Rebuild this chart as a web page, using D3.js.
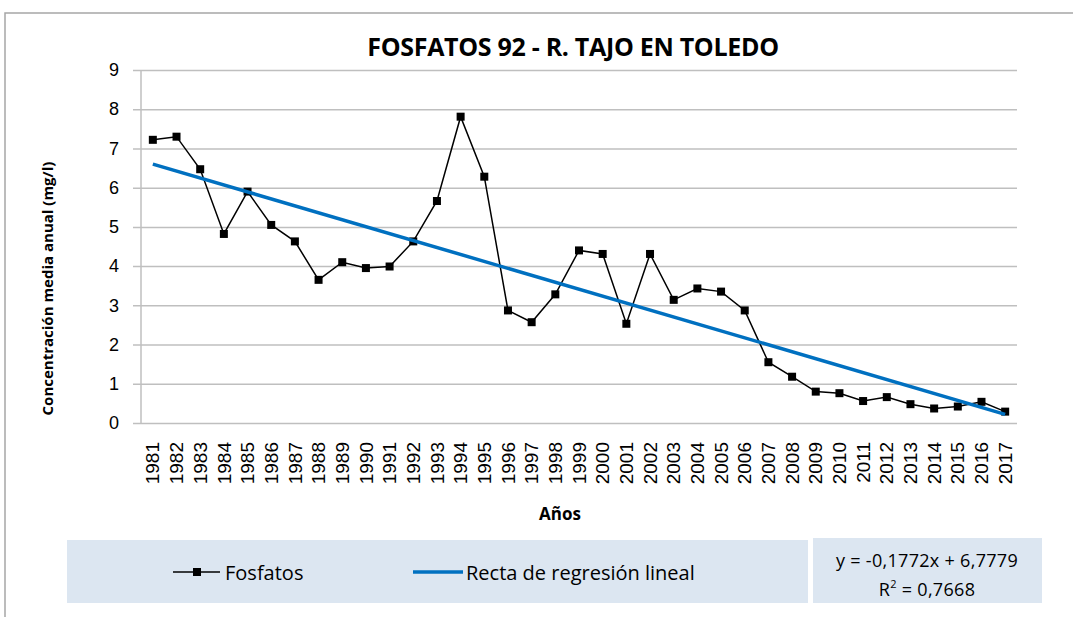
<!DOCTYPE html>
<html>
<head>
<meta charset="utf-8">
<script src="https://cdn.jsdelivr.net/npm/d3@7"></script>
<style>
  body { margin: 0; background: #fff; }
  svg { display: block; font-family: 'Open Sans', sans-serif; }
</style>
</head>
<body>
<svg width="1073" height="617"></svg>
<script>
const years = ['1981', '1982', '1983', '1984', '1985', '1986', '1987', '1988', '1989', '1990',
  '1991', '1992', '1993', '1994', '1995', '1996', '1997', '1998', '1999', '2000',
  '2001', '2002', '2003', '2004', '2005', '2006', '2007', '2008', '2009', '2010',
  '2011', '2012', '2013', '2014', '2015', '2016', '2017'];
const fosfatos = [7.22, 7.30, 6.47, 4.82, 5.90, 5.05, 4.63, 3.65, 4.10, 3.95,
  3.99, 4.63, 5.66, 7.81, 6.28, 2.87, 2.57, 3.28, 4.40, 4.31,
  2.53, 4.31, 3.14, 3.43, 3.35, 2.87, 1.55, 1.18, 0.80, 0.76,
  0.56, 0.66, 0.48, 0.37, 0.42, 0.54, 0.29];
// coeficientes de la recta de regresión (x = 1..37)
const slope = -0.1772;
const intercept = 6.7779;
const rSquared = 0.7668;
const yTicks = [0, 1, 2, 3, 4, 5, 6, 7, 8, 9];

function createChart() {
  const svg = d3.select('svg');
  const left = 141;
  const right = 1017;
  const top = 70;
  const bottom = 423;

  // chart frame
  svg.append('rect')
      .attr('x', 5)
      .attr('y', 13)
      .attr('width', 1200)
      .attr('height', 800)
      .attr('fill', 'none')
      .attr('stroke', '#a6a6a6')
      .attr('stroke-width', 1.5);

  svg.append('text')
      .attr('x', 573)
      .attr('y', 46)
      .attr('text-anchor', 'middle')
      .attr('dominant-baseline', 'central')
      .style('font-size', '25px')
      .style('font-weight', 'bold')
      .style('letter-spacing', '-0.3px')
      .text('FOSFATOS 92 - R. TAJO EN TOLEDO');

  const xScale = d3.scaleBand()
      .domain(years)
      .range([left, right]);
  const yScale = d3.scaleLinear()
      .domain([0, 9])
      .range([bottom, top]);

  const yAxis = d3.axisLeft(yScale)
      .tickValues(yTicks)
      .tickSize(0)
      .tickPadding(22);
  const yAxisG = svg.append('g')
      .attr('transform', `translate(${left}, 0)`)
      .call(yAxis);
  yAxisG.select('.domain').remove();
  yAxisG.selectAll('.tick line')
      .attr('x1', -8)
      .attr('x2', right - left)
      .attr('stroke', '#bfbfbf')
      .attr('stroke-width', 1.5);
  yAxisG.selectAll('.tick text')
      .style('font-size', '18px')
      .attr('fill', '#000');

  svg.append('line')
      .attr('x1', left)
      .attr('x2', left)
      .attr('y1', top)
      .attr('y2', bottom)
      .attr('stroke', '#bfbfbf')
      .attr('stroke-width', 1.5);

  const xAxis = d3.axisBottom(xScale)
      .tickSize(0)
      .tickPadding(0);
  const xAxisG = svg.append('g')
      .attr('transform', `translate(0, ${bottom})`)
      .call(xAxis);
  xAxisG.select('.domain').remove();
  xAxisG.selectAll('.tick text')
      .attr('transform', 'rotate(-90)')
      .attr('x', -19)
      .attr('y', 0)
      .attr('dy', '0.35em')
      .attr('text-anchor', 'end')
      .attr('fill', '#000')
      .style('font-size', '19px');

  svg.append('text')
      .attr('x', 560)
      .attr('y', 513)
      .attr('text-anchor', 'middle')
      .attr('dominant-baseline', 'central')
      .style('font-size', '17px')
      .style('font-weight', 'bold')
      .text('Años');

  svg.append('text')
      .attr('transform', `translate(47, ${(top + bottom) / 2 + 42}) rotate(-90)`)
      .attr('text-anchor', 'middle')
      .attr('dominant-baseline', 'central')
      .style('font-size', '15px')
      .style('font-weight', 'bold')
      .text('Concentración media anual (mg/l)');

  const xCenter = d => xScale(d) + xScale.bandwidth() / 2;

  const line = d3.line()
      .x((d, i) => xCenter(years[i]))
      .y(d => yScale(d));
  svg.append('path')
      .attr('d', line(fosfatos))
      .attr('fill', 'none')
      .attr('stroke', '#000')
      .attr('stroke-width', 1.5);

  svg.selectAll('.marker')
      .data(fosfatos)
      .enter()
      .append('rect')
      .attr('class', 'marker')
      .attr('x', (d, i) => xCenter(years[i]) - 4)
      .attr('y', d => yScale(d) - 4)
      .attr('width', 8)
      .attr('height', 8)
      .attr('fill', '#000');

  const first = 1;
  const last = years.length;
  svg.append('line')
      .attr('x1', xCenter(years[first - 1]))
      .attr('y1', yScale(slope * first + intercept))
      .attr('x2', xCenter(years[last - 1]))
      .attr('y2', yScale(slope * last + intercept))
      .attr('stroke', '#0070c0')
      .attr('stroke-width', 3.5);

  drawLegend(svg);
}

function drawLegend(svg) {
  svg.append('rect')
      .attr('x', 67)
      .attr('y', 540)
      .attr('width', 741)
      .attr('height', 63)
      .attr('fill', '#dce6f1');
  svg.append('rect')
      .attr('x', 813)
      .attr('y', 538)
      .attr('width', 229)
      .attr('height', 65)
      .attr('fill', '#dce6f1');

  const ly = 572;
  svg.append('line')
      .attr('x1', 173)
      .attr('x2', 220)
      .attr('y1', ly)
      .attr('y2', ly)
      .attr('stroke', '#000')
      .attr('stroke-width', 1.5);
  svg.append('rect')
      .attr('x', 193)
      .attr('y', ly - 4)
      .attr('width', 8)
      .attr('height', 8)
      .attr('fill', '#000');
  svg.append('text')
      .attr('x', 225)
      .attr('y', ly)
      .attr('dominant-baseline', 'central')
      .style('font-size', '20px')
      .text('Fosfatos');

  svg.append('line')
      .attr('x1', 413)
      .attr('x2', 463)
      .attr('y1', ly)
      .attr('y2', ly)
      .attr('stroke', '#0070c0')
      .attr('stroke-width', 3.5);
  svg.append('text')
      .attr('x', 466)
      .attr('y', ly)
      .attr('dominant-baseline', 'central')
      .style('font-size', '20px')
      .text('Recta de regresión lineal');

  const fmt = v => v.toFixed(4).replace('.', ',');
  svg.append('text')
      .attr('x', 927)
      .attr('y', 560)
      .attr('text-anchor', 'middle')
      .attr('dominant-baseline', 'central')
      .style('font-size', '18px')
      .style('letter-spacing', '0.3px')
      .text(`y = ${fmt(slope)}x + ${fmt(intercept)}`);
  const r2 = svg.append('text')
      .attr('x', 927)
      .attr('y', 589)
      .attr('text-anchor', 'middle')
      .attr('dominant-baseline', 'central')
      .style('font-size', '18px')
      .style('letter-spacing', '0.3px');
  r2.append('tspan').text('R');
  r2.append('tspan').attr('dy', -6).style('font-size', '11px').text('2');
  r2.append('tspan').attr('dy', 6).text(` = ${fmt(rSquared)}`);
}

createChart();
</script>
</body>
</html>
